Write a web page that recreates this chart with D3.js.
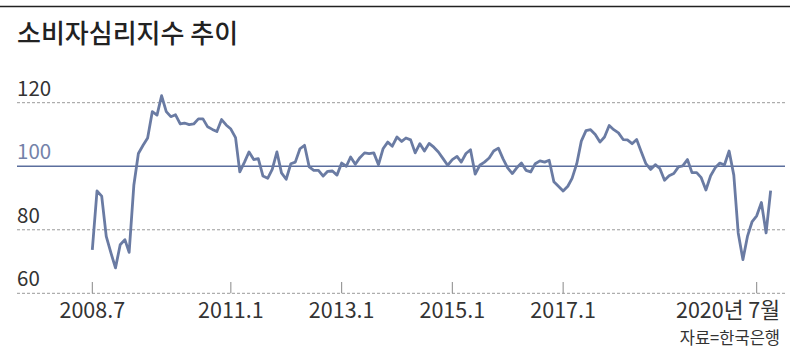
<!DOCTYPE html>
<html>
<head>
<meta charset="utf-8">
<script src="https://cdn.jsdelivr.net/npm/d3@7"></script>
<style>
  body { margin: 0; background: #fff; }
  svg { display: block; }
  text { font-family: "Noto Sans CJK KR", "Noto Sans", sans-serif; }
</style>
</head>
<body>
<div id="chart"></div>
<script>
// monthly index, 2008.7 .. 2020.10
const firstMonth = "2008-07";
const ccsi = [
  73.7, 92.2, 90.6, 77.9, 72.7, 68.0, 75.3, 76.9, 72.9, 94.0, 104.0, 106.6,
  108.9, 117.2, 116.1, 122.2, 117.2, 115.6, 116.2, 113.3, 113.6, 113.1, 113.3, 114.9,
  114.9, 112.4, 111.6, 110.9, 114.7, 113.0, 111.7, 109.0, 98.2, 101.3, 104.5, 102.1,
  102.4, 96.9, 96.2, 99.0, 104.5, 97.9, 95.9, 100.8, 101.3, 105.5, 106.6, 99.8,
  98.7, 98.7, 96.9, 98.4, 98.5, 97.2, 101.0, 100.0, 102.9, 100.6, 102.7, 104.2,
  104.0, 104.2, 100.5, 105.5, 107.6, 106.3, 109.2, 107.8, 108.9, 108.3, 104.2, 107.1,
  104.8, 107.2, 106.0, 104.5, 102.4, 100.3, 102.1, 103.1, 101.3, 104.0, 105.2, 97.5,
  100.3, 101.3, 102.6, 104.8, 105.7, 102.4, 99.5, 97.7, 99.5, 101.0, 98.7, 98.2,
  100.8, 101.7, 101.3, 101.9, 95.1, 93.7, 92.2, 93.7, 96.2, 100.8, 107.9, 111.2,
  111.5, 110.0, 107.6, 109.2, 112.8, 111.5, 110.5, 108.4, 108.3, 107.1, 108.4, 104.5,
  100.8, 99.0, 100.5, 99.3, 95.6, 97.0, 97.7, 99.8, 100.1, 102.1, 98.0, 98.0,
  96.4, 92.5, 97.0, 99.5, 101.0, 100.4, 104.8, 97.2, 79.0, 70.6, 77.9, 82.6,
  84.4, 88.6, 79.0, 92.3
];
const yTicks = [60, 80, 100, 120];
const xTickMonths = ["2008-07", "2011-01", "2013-01", "2015-01", "2017-01", "2020-07"];
const xTickLabels = ["2008.7", "2011.1", "2013.1", "2015.1", "2017.1", "2020년 7월"];

const width = 800, height = 354;
const parseMonth = d3.timeParse("%Y-%m");
const start = parseMonth(firstMonth);
const data = ccsi.map((v, i) => ({ date: d3.timeMonth.offset(start, i), value: v }));

const svg = d3.select("#chart").append("svg")
    .attr("width", width)
    .attr("height", height);

// top rule
svg.append("line")
    .attr("x1", 0).attr("x2", 790)
    .attr("y1", 6.5).attr("y2", 6.5)
    .attr("stroke", "#222")
    .attr("stroke-width", 1.6);

// title
svg.append("text")
    .attr("x", 17).attr("y", 42.5)
    .style("font-size", "26px")
    .style("font-weight", "500")
    .style("fill", "#222")
    .text("소비자심리지수 추이");

const x = d3.scaleTime()
    .domain([parseMonth(xTickMonths[0]), parseMonth(xTickMonths[xTickMonths.length - 1])])
    .range([92.3, 756.7]);

const y = d3.scaleLinear()
    .domain([60, 120])
    .range([293.3, 102.7]);

const gridLeft = 17, gridRight = 785;

// gridlines
svg.selectAll(".grid")
    .data(yTicks)
    .enter().append("line")
    .attr("class", "grid")
    .attr("x1", gridLeft).attr("x2", gridRight)
    .attr("y1", d => y(d)).attr("y2", d => y(d))
    .attr("stroke", d => d === 100 ? "#5b6e9d" : "#9a9a9a")
    .attr("stroke-width", d => d === 100 ? 1.4 : 1)
    .attr("stroke-dasharray", d => d === 100 ? null : "3,2");

// y labels
svg.selectAll(".ylab")
    .data(yTicks)
    .enter().append("text")
    .attr("class", "ylab")
    .attr("x", gridLeft)
    .attr("y", d => y(d) - 7)
    .style("font-size", "20.5px")
    .style("fill", d => d === 100 ? "#7482a9" : "#333")
    .text(d => d);

// x ticks
svg.selectAll(".xtick")
    .data(xTickMonths)
    .enter().append("line")
    .attr("class", "xtick")
    .attr("x1", d => x(parseMonth(d))).attr("x2", d => x(parseMonth(d)))
    .attr("y1", 282).attr("y2", y(60))
    .attr("stroke", "#888")
    .attr("stroke-width", 1);

svg.selectAll(".xlab")
    .data(xTickMonths)
    .enter().append("text")
    .attr("class", "xlab")
    .attr("x", (d, i) => i === xTickMonths.length - 1 ? 780 : x(parseMonth(d)))
    .attr("y", 317.5)
    .attr("text-anchor", (d, i) => i === xTickMonths.length - 1 ? "end" : "middle")
    .style("font-size", "21.5px")
    .style("fill", "#333")
    .text((d, i) => xTickLabels[i]);

// line
const line = d3.line()
    .x(d => x(d.date))
    .y(d => y(d.value));

svg.append("path")
    .datum(data)
    .attr("d", line)
    .attr("fill", "none")
    .attr("stroke", "#6a7ba3")
    .attr("stroke-width", 2.8)
    .attr("stroke-linejoin", "round");

// source
svg.append("text")
    .attr("x", 780).attr("y", 343.5)
    .attr("text-anchor", "end")
    .style("font-size", "16.5px")
    .style("fill", "#333")
    .text("자료=한국은행");
</script>
</body>
</html>
